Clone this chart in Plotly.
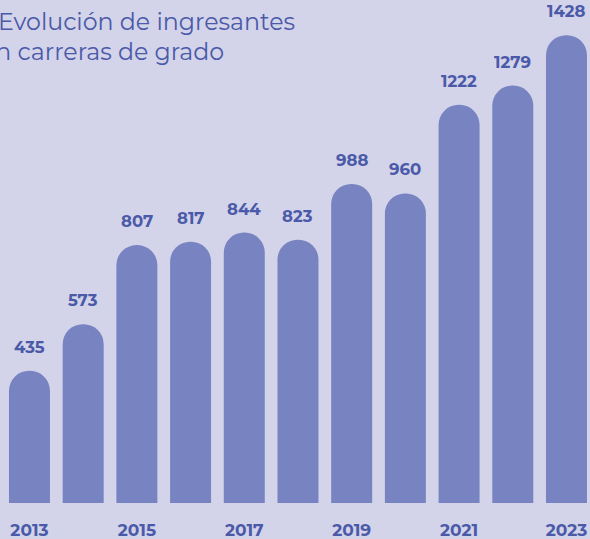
import plotly.graph_objects as go

years = [2013, 2014, 2015, 2016, 2017, 2018, 2019, 2020, 2021, 2022, 2023]
ingresantes = [435, 573, 807, 817, 844, 823, 988, 960, 1222, 1279, 1428]
tick_years = [2013, 2015, 2017, 2019, 2021, 2023]
title_lines = ["Evolución de ingresantes", "en carreras de grado"]

BG = "#d3d3ea"
BAR = "#7883c1"
TXT = "#4a5aa8"
FONT = "Montserrat, 'Open Sans', sans-serif"

W, H = 590, 539
T, B = 20, 36
plot_h = H - T - B
PX_PER_UNIT = 0.338
Y_BASE = 44

fig = go.Figure()
fig.add_trace(go.Bar(
    x=years, y=ingresantes, width=0.763,
    marker=dict(color=BAR, line=dict(width=0)),
    hoverinfo="x+y",
))

for yr, v in zip(years, ingresantes):
    fig.add_annotation(
        x=yr, y=v, xref="x", yref="y", text=f"<b>{v}</b>",
        showarrow=False, yanchor="bottom", yshift=12,
        font=dict(family=FONT, size=16.5, color=TXT),
    )

def py_to_paper(py):
    return (H - B - py) / plot_h

fig.add_annotation(
    x=0, y=py_to_paper(22), xref="paper", yref="paper", xanchor="left", yanchor="middle",
    xshift=-4, text=title_lines[0], showarrow=False,
    font=dict(family=FONT, size=23.7, color=TXT),
)
fig.add_annotation(
    x=0, y=py_to_paper(51), xref="paper", yref="paper", xanchor="left", yanchor="middle",
    xshift=-21, text=title_lines[1], showarrow=False,
    font=dict(family=FONT, size=23.7, color=TXT),
)

fig.update_layout(
    width=W, height=H,
    margin=dict(l=0, r=0, t=T, b=B, autoexpand=False),
    paper_bgcolor=BG, plot_bgcolor=BG,
    barcornerradius="50%",
    showlegend=False,
    xaxis=dict(
        range=[2012.451, 2023.438], tickvals=tick_years,
        ticktext=[f"<b>{y}</b>" for y in tick_years],
        tickfont=dict(family=FONT, size=17, color=TXT),
        showgrid=False, zeroline=False, showline=False, ticks="",
        ticklabelstandoff=15, automargin=False,
    ),
    yaxis=dict(
        range=[Y_BASE, Y_BASE + plot_h / PX_PER_UNIT], visible=False,
        showgrid=False, zeroline=False, automargin=False,
    ),
)

fig.write_html(
    "out.html",
    config={"displayModeBar": False},
    post_script="document.body.style.margin='0';document.body.style.overflow='hidden';",
)
